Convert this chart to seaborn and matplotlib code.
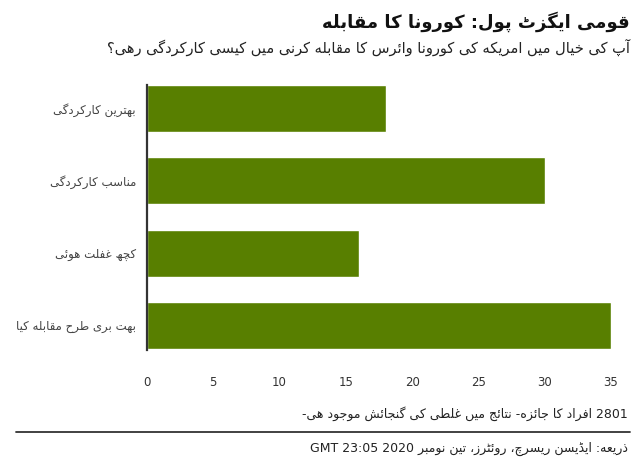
import re
import matplotlib
matplotlib.use("Agg")
import matplotlib.pyplot as plt
from matplotlib import font_manager
from matplotlib.ft2font import FT2Font
import seaborn as sns
import pandas as pd

# Data
categories = ["بہترین کارکردگی", "مناسب کارکردگی", "کچھ غفلت ہوئی", "بہت بری طرح مقابلہ کیا"]
values = [18, 30, 16, 35]
x_ticks = [0, 5, 10, 15, 20, 25, 30, 35]

title = "قومی ایگزٹ پول: کورونا کا مقابلہ"
subtitle = "آپ کے خیال میں امریکہ کی کورونا وائرس کا مقابلہ کرنے میں کیسی کارکردگی رہی؟"
note = "2801 افراد کا جائزہ۔ نتائج میں غلطی کی گنجائش موجود ہے۔"
source = "ذریعہ: ایڈیسن ریسرچ، روئٹرز، تین نومبر 2020 23:05 GMT"

# which code points DejaVu Sans really has
dv_path = font_manager.findfont("DejaVu Sans")
charmap = set(FT2Font(dv_path).get_charmap().keys())


def has(cp):
    return cp in charmap


# Simple Arabic-script shaping (matplotlib draws glyphs left to right without joining)
# forms: isolated, final, initial, medial (None -> letter only joins to the right)
FORMS = {
    "ا": (0xFE8D, 0xFE8E, None, None), "آ": (0xFE81, 0xFE82, None, None),
    "ب": (0xFE8F, 0xFE90, 0xFE91, 0xFE92), "پ": (0xFB56, 0xFB57, 0xFB58, 0xFB59),
    "ت": (0xFE95, 0xFE96, 0xFE97, 0xFE98), "ٹ": (0xFB66, 0xFB67, 0xFB68, 0xFB69),
    "ث": (0xFE99, 0xFE9A, 0xFE9B, 0xFE9C), "ج": (0xFE9D, 0xFE9E, 0xFE9F, 0xFEA0),
    "چ": (0xFB7A, 0xFB7B, 0xFB7C, 0xFB7D), "ح": (0xFEA1, 0xFEA2, 0xFEA3, 0xFEA4),
    "خ": (0xFEA5, 0xFEA6, 0xFEA7, 0xFEA8), "د": (0xFEA9, 0xFEAA, None, None),
    "ڈ": (0xFB88, 0xFB89, None, None), "ذ": (0xFEAB, 0xFEAC, None, None),
    "ر": (0xFEAD, 0xFEAE, None, None), "ڑ": (0xFB8C, 0xFB8D, None, None),
    "ز": (0xFEAF, 0xFEB0, None, None), "س": (0xFEB1, 0xFEB2, 0xFEB3, 0xFEB4),
    "ش": (0xFEB5, 0xFEB6, 0xFEB7, 0xFEB8), "ص": (0xFEB9, 0xFEBA, 0xFEBB, 0xFEBC),
    "ض": (0xFEBD, 0xFEBE, 0xFEBF, 0xFEC0), "ط": (0xFEC1, 0xFEC2, 0xFEC3, 0xFEC4),
    "ظ": (0xFEC5, 0xFEC6, 0xFEC7, 0xFEC8), "ع": (0xFEC9, 0xFECA, 0xFECB, 0xFECC),
    "غ": (0xFECD, 0xFECE, 0xFECF, 0xFED0), "ف": (0xFED1, 0xFED2, 0xFED3, 0xFED4),
    "ق": (0xFED5, 0xFED6, 0xFED7, 0xFED8), "ک": (0xFB8E, 0xFB8F, 0xFB90, 0xFB91),
    "گ": (0xFB92, 0xFB93, 0xFB94, 0xFB95), "ل": (0xFEDD, 0xFEDE, 0xFEDF, 0xFEE0),
    "م": (0xFEE1, 0xFEE2, 0xFEE3, 0xFEE4), "ن": (0xFEE5, 0xFEE6, 0xFEE7, 0xFEE8),
    "ں": (0xFB9E, 0xFB9F, 0xFEE7, 0xFEE8), "و": (0xFEED, 0xFEEE, None, None),
    "ہ": (0xFBA6, 0xFBA7, 0xFBA8, 0xFBA9), "ھ": (0xFBAA, 0xFBAB, 0xFBAC, 0xFBAD),
    "ی": (0xFBFC, 0xFBFD, 0xFBFE, 0xFBFF), "ے": (0xFBAE, 0xFBAF, None, None),
    "ئ": (0xFE89, 0xFE8A, 0xFE8B, 0xFE8C), "ء": (0xFE80, None, None, None),
}
# glyph stand-ins when the Urdu presentation form is missing from the font
ALT = {
    "ہ": (0xFEE9, 0xFEEA, 0xFEEB, 0xFEEC),   # arabic heh forms
    "ے": (0x06D2, 0xFEF0, None, None),
}
LAM_ALEF = {"ا": (0xFEFB, 0xFEFC), "آ": (0xFEF5, 0xFEF6)}


def dual(c):
    return c in FORMS and FORMS[c][2] is not None


def pick(c, k):
    g = FORMS[c][k]
    if g is not None and has(g):
        return g
    base = ord(c)
    if k == 0 and has(base):
        return base
    if c in ALT:
        a = ALT[c][k] if ALT[c][k] is not None else ALT[c][0]
        if has(a):
            return a
    if has(base):
        return base
    return FORMS[c][0]


def shape(text):
    out = []
    i = 0
    n = len(text)
    while i < n:
        c = text[i]
        prev = text[i - 1] if i > 0 else ""
        join_prev = dual(prev)
        if c == "ل" and i + 1 < n and text[i + 1] in LAM_ALEF:
            out.append(chr(LAM_ALEF[text[i + 1]][1 if join_prev else 0]))
            i += 2
            continue
        if c not in FORMS:
            if c == "۔" and not has(ord(c)):
                c = "-"
            out.append(c)
            i += 1
            continue
        nxt = text[i + 1] if i + 1 < n else ""
        join_next = dual(c) and nxt in FORMS
        if join_prev and join_next:
            k = 3
        elif join_prev:
            k = 1
        elif join_next:
            k = 2
        else:
            k = 0
        out.append(chr(pick(c, k)))
        i += 1
    vis = "".join(out)[::-1]
    # keep numbers and latin words left to right
    vis = re.sub(r"[0-9A-Za-z]+(?:[:.][0-9A-Za-z]+)*", lambda m: m.group(0)[::-1], vis)
    return vis


df = pd.DataFrame({"label": [shape(c) for c in categories], "value": values})

sns.set_theme(style="white")
plt.rcParams["font.family"] = ["DejaVu Sans"]

fig = plt.figure(figsize=(6.4, 4.76), dpi=100)
ax = fig.add_axes([147 / 640, 1 - 350 / 476, (611 - 147) / 640, (350 - 85) / 476])

sns.barplot(data=df, x="value", y="label", color="#587f00", saturation=1,
            width=0.65, ax=ax)

ax.set_xlim(0, 35)
ax.set_ylim(3.34, -0.325)
ax.set_xticks(x_ticks)
ax.set_xticklabels([str(t) for t in x_ticks])
ax.set_xlabel("")
ax.set_ylabel("")
ax.tick_params(axis="x", length=0, pad=19, labelsize=8.5, labelcolor="#333333")
ax.tick_params(axis="y", length=0, pad=8, labelsize=8.5, labelcolor="#444444")
for s in ["top", "right", "bottom"]:
    ax.spines[s].set_visible(False)
ax.spines["left"].set_color("#333333")
ax.spines["left"].set_linewidth(1.6)

# Title block
fig.text(630 / 640, 1 - 22 / 476, shape(title), ha="right", va="center",
         fontsize=13, fontweight="bold", color="#111111")
fig.text(630 / 640, 1 - 47 / 476, shape(subtitle), ha="right", va="center",
         fontsize=10.5, color="#222222")

# Footer
fig.text(628 / 640, 1 - 414 / 476, shape(note), ha="right", va="center",
         fontsize=9, color="#222222")
fig.add_artist(plt.Line2D([16 / 640, 630 / 640], [1 - 432 / 476, 1 - 432 / 476],
                          color="#333333", linewidth=1.3))
fig.text(628 / 640, 1 - 449 / 476, shape(source), ha="right", va="center",
         fontsize=9, color="#222222")

fig.savefig("out.png", dpi=100, facecolor="white")
